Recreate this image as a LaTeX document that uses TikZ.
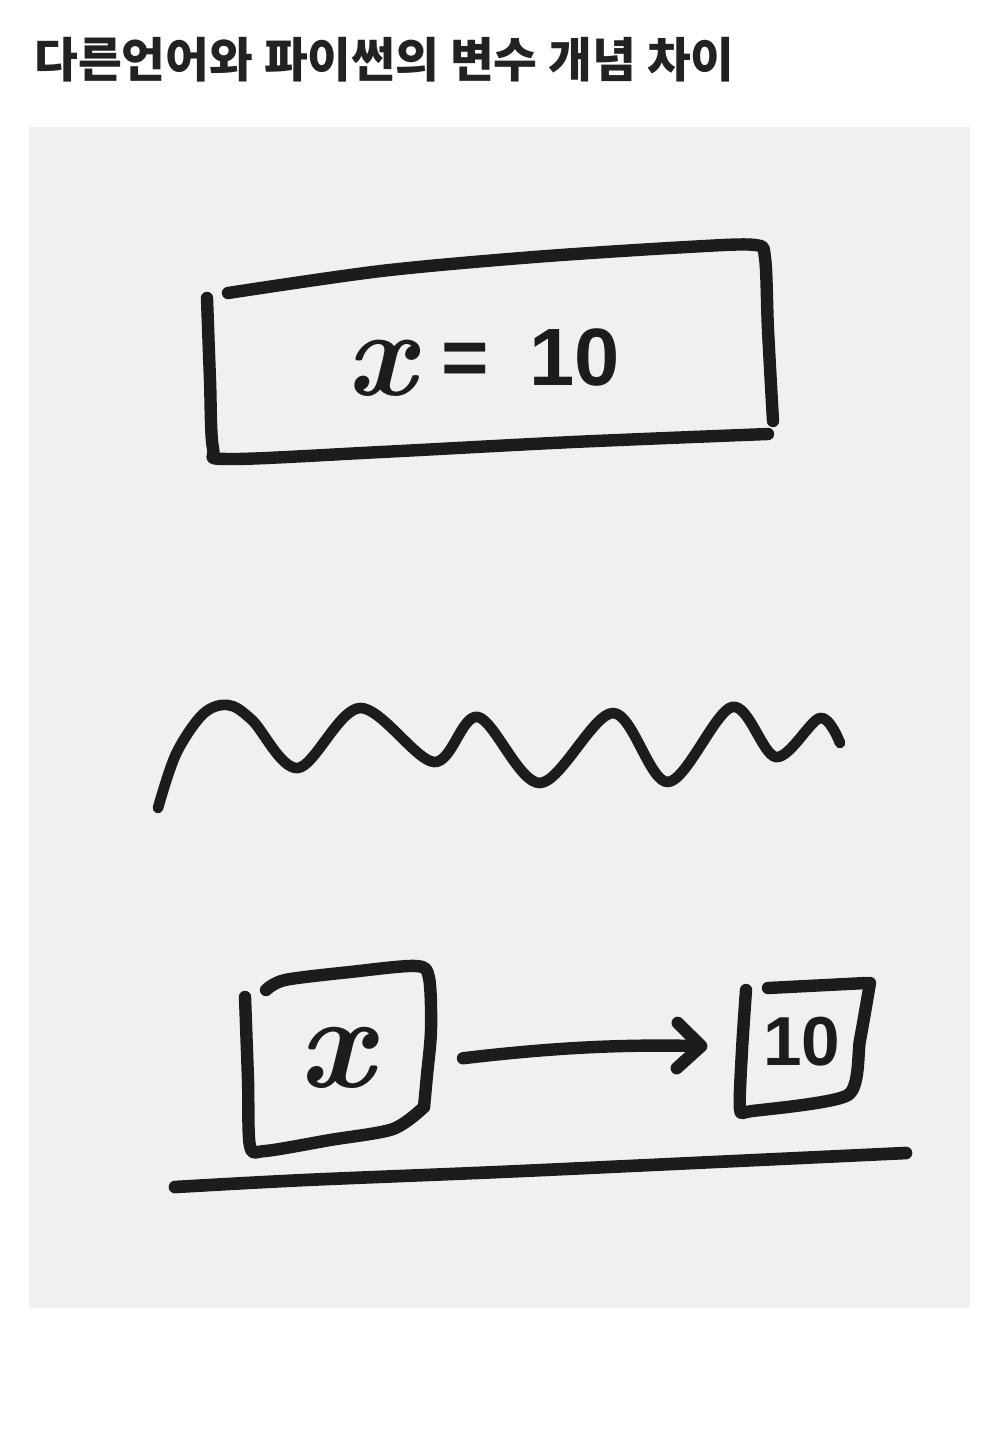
\documentclass[tikz,border=0pt]{standalone}
\usepackage{fontspec}
\usetikzlibrary{arrows.meta}
\newfontfamily\kr{Noto Sans CJK KR}
\newfontfamily\handd{Liberation Sans}
\newcommand{\handx}{\rmfamily\bfseries\itshape}
\definecolor{paper}{HTML}{F0F0F0}
\definecolor{ink}{HTML}{1C1C1C}
\definecolor{titleink}{HTML}{222222}
\begin{document}
\begin{tikzpicture}[x=0.75pt,y=-0.75pt,
  pen/.style={draw=ink, line width=9.3pt, line cap=round, line join=round},
  hand/.style={text=ink, inner sep=0pt},
  frame/.style={inner sep=0pt, draw=none}]
\useasboundingbox (0,0) rectangle (1000,1432);
\fill[white] (0,0) rectangle (1000,1432);
\fill[paper] (29,127) rectangle (970,1308);
% title
\node[anchor=base west, text=titleink, inner sep=0pt,
      font=\kr\bfseries\fontsize{35.7pt}{42pt}\selectfont] (title) at (34,77)
      {다른언어와 파이썬의 변수 개념 차이};
% top box
\draw[pen] plot[smooth, tension=0.5] coordinates {(228,293) (381,271) (534,257) (687,247) (755,245) (765,258) (768,330) (773,421)};
\draw[pen] plot[smooth, tension=0.5] coordinates {(207,298) (210,380) (213,448) (228,459) (381,452) (573,442) (768,434)};
\node[hand, anchor=base, font=\handd\bfseries\fontsize{61pt}{66pt}\selectfont] (eq) at (483,385)
  {\raisebox{-8pt}{\handx\fontsize{92pt}{96pt}\selectfont x}\hspace{20pt}=\hspace{30pt}10};
% wave
\draw[pen, line width=8pt] plot[smooth, tension=0.55] coordinates {(158,808) (176,754) (203,714) (228,705) (252,720) (298,768) (360,708) (434,762) (478,717) (540,783) (613,713) (668,782) (732,707) (776,757) (820,718) (840,743)};
% bottom left box
\node[frame, minimum width=138pt, minimum height=131pt] (xbox) at (339,1062) {};
\draw[pen] plot[smooth, tension=0.5] coordinates {(245,997) (248,1080) (250,1146) (265,1151) (330,1140) (393,1129) (424,1107)};
\draw[pen] plot[smooth, tension=0.5] coordinates {(266,990) (285,980) (350,972) (416,966) (429,978) (431,1030) (427,1075) (424,1107)};
\node[hand, font=\handx\fontsize{100pt}{104pt}\selectfont] (xl) at (336,1058) {x};
% right small box
\node[frame, minimum width=92pt, minimum height=95pt] (tenbox) at (805,1047) {};
\draw[pen] plot[smooth, tension=0.4] coordinates {(746,990) (742,1050) (740,1109) (752,1111) (848,1095) (860,1040) (870,983)};
\draw[pen] (768,988) -- (866,983);
\node[hand, font=\handd\bfseries\fontsize{52pt}{56pt}\selectfont] (ten) at (802,1042) {10};
% arrow
\draw[pen, shorten <=24pt, shorten >=27pt,
      -{Straight Barb[length=18pt, width=34pt, line cap=round, line join=round]}]
      (xbox.east) to[bend left=4] (tenbox.west);
% base line
\draw[pen, line width=9.5pt] plot[smooth, tension=0.5] coordinates {(175,1187) (305,1180) (499,1172) (693,1163) (906,1153)};
\end{tikzpicture}
\end{document}
